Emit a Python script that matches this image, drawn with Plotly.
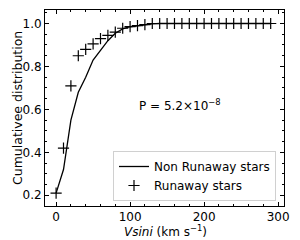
import plotly.graph_objects as go

# Non runaway stars (cumulative line)
line_x = [0, 10, 20, 30, 40, 50, 60, 70, 80, 90, 100, 110, 120, 130, 140, 150, 160, 170,
          180, 190, 200, 210, 220, 230, 240, 250, 260, 270, 280, 290]
line_y = [0.21, 0.32, 0.55, 0.68, 0.75, 0.83, 0.875, 0.92, 0.955, 0.975, 0.985, 0.99, 0.995,
          0.998, 1.0, 1.0, 1.0, 1.0, 1.0, 1.0, 1.0, 1.0, 1.0, 1.0, 1.0, 1.0, 1.0, 1.0, 1.0, 1.0]

# Runaway stars (markers)
run_x = [0, 10, 20, 30, 40, 50, 60, 70, 80, 90, 100, 110, 120, 130, 140, 150, 160, 170,
         180, 190, 200, 210, 220, 230, 240, 250, 260, 270, 280, 290]
run_y = [0.21, 0.42, 0.71, 0.85, 0.88, 0.905, 0.93, 0.945, 0.96, 0.978, 0.986, 0.99, 0.995,
         1.0, 1.0, 1.0, 1.0, 1.0, 1.0, 1.0, 1.0, 1.0, 1.0, 1.0, 1.0, 1.0, 1.0, 1.0, 1.0, 1.0]

x_ticks = [0, 100, 200, 300]
y_ticks = [0.2, 0.4, 0.6, 0.8, 1.0]
y_tick_text = ["0.2", "0.4", "0.6", "0.8", "1.0"]

FONT = "DejaVu Sans"

# the page has an 8px body margin, so the figure is laid out 8px smaller
PW, PH = 239, 196   # plot area size in px

fig = go.Figure()
fig.add_trace(go.Scatter(x=line_x, y=line_y, mode="lines", name="Non Runaway stars",
                         line=dict(color="black", width=1.3)))
fig.add_trace(go.Scatter(x=run_x, y=run_y, mode="markers", name="Runaway stars",
                         marker=dict(symbol="cross-thin", size=8, color="black",
                                     line=dict(color="black", width=1.2))))

fig.add_annotation(x=0.565, y=0.515, xref="paper", yref="paper",
                   text="P = 5.2×10<sup>−8</sup>", showarrow=False,
                   font=dict(family=FONT, size=12, color="black"))

# axis titles as annotations for exact placement
fig.add_annotation(x=(165 - 45) / PW, y=-(231 - 206) / PH, xref="paper", yref="paper",
                   text="<i>Vsini</i> (km s<sup>−1</sup>)", showarrow=False,
                   yanchor="middle", xanchor="center",
                   font=dict(family=FONT, size=12, color="black"))
fig.add_annotation(x=-(45 - 17) / PW, y=0.5, xref="paper", yref="paper",
                   text="Cumulativee distribution", showarrow=False, textangle=-90,
                   xanchor="center", yanchor="middle",
                   font=dict(family=FONT, size=12.5, color="black"))

axis_common = dict(showgrid=False, zeroline=False, showline=True, linecolor="black",
                   linewidth=1, mirror="allticks", ticks="inside", ticklen=4,
                   tickcolor="black", tickwidth=1, automargin=False,
                   tickfont=dict(family=FONT, size=12, color="black"))

fig.update_xaxes(range=[-15, 308], tickvals=x_ticks,
                 minor=dict(dtick=20, tick0=0, ticks="inside", ticklen=2,
                            tickcolor="black"),
                 **axis_common)
fig.update_yaxes(range=[0.15, 1.063], tickvals=y_ticks, ticktext=y_tick_text,
                 minor=dict(dtick=0.05, tick0=0.2, ticks="inside", ticklen=2,
                            tickcolor="black"),
                 **axis_common)

fig.update_layout(
    width=292, height=232,
    margin=dict(l=37, r=16, t=2, b=34, autoexpand=False),
    paper_bgcolor="white", plot_bgcolor="white",
    showlegend=True,
    legend=dict(x=(113 - 45) / PW, y=(206 - 201) / PH, xanchor="left", yanchor="bottom",
                bgcolor="white", bordercolor="#d0d0d0", borderwidth=1,
                font=dict(family=FONT, size=12, color="black"),
                itemwidth=30, tracegroupgap=0),
)

fig.write_html("out.html")
